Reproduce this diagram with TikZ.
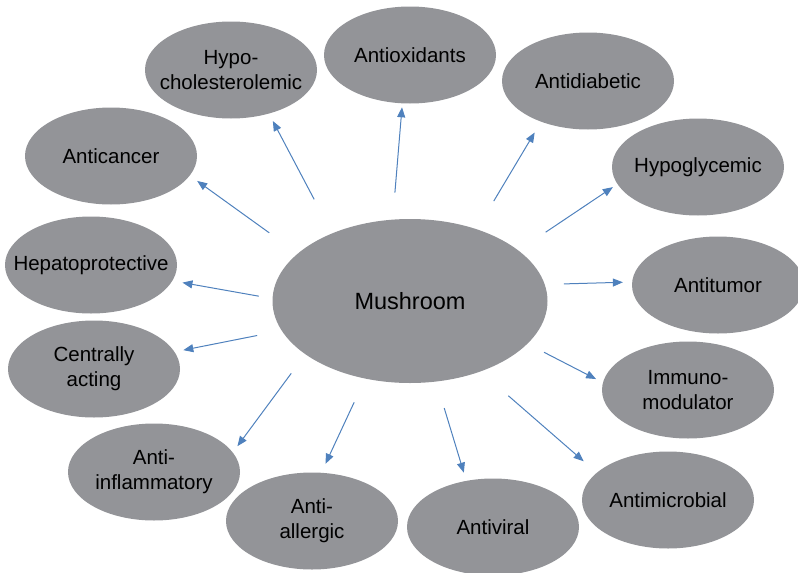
\documentclass[tikz,border=0pt]{standalone}
\usepackage{fontspec}
\setmainfont{Liberation Sans}
\usepackage{tikz}
\usetikzlibrary{shapes.geometric, arrows.meta}
\definecolor{capgray}{RGB}{147,148,152}
\definecolor{linkblue}{RGB}{79,129,189}

\tikzset{
  effect/.style={ellipse, fill=capgray, inner xsep=-20pt, inner ysep=0pt, minimum width=172pt, minimum height=97pt,
    align=center, font=\fontsize{20.5}{25}\selectfont},
  hub/.style={ellipse, fill=capgray, inner sep=0pt, minimum width=275pt, minimum height=164pt,
    font=\fontsize{23.5}{28}\selectfont},
  link/.style={linkblue, line width=1pt, -{Triangle[length=10pt, width=8pt]}}
}

\begin{document}
\begin{tikzpicture}[x=1pt, y=-1pt]
          \useasboundingbox (0,0) rectangle (798,573);

          % Centre
          \node[hub] (mush) at (410,301) {Mushroom};

          % Effects around the centre
          \node[effect] (hypochol) at (231,70) {Hypo-\\cholesterolemic};
          \node[effect] (antiox) at (410,55) {Antioxidants};
          \node[effect] (diabetic) at (588,81) {Antidiabetic};
          \node[effect] (hypogly) at (698,167) {Hypoglycemic};
          \node[effect] (tumor) at (718,285) {Antitumor};
          \node[effect] (immuno) at (688,390) {Immuno-\\modulator};
          \node[effect] (microbial) at (668,500) {Antimicrobial};
          \node[effect] (viral) at (493,527) {Antiviral};
          \node[effect] (allergic) at (312,521) {Anti-\\allergic};
          \node[effect] (inflam) at (154,472) {Anti-\\inflammatory};
          \node[effect] (central) at (94,369) {Centrally\\acting};
          \node[effect] (hepato) at (91,265) {Hepatoprotective};
          \node[effect] (cancer) at (111,156) {Anticancer};

          % Arrows out of the centre
          \draw[link, shorten <=38.3pt, shorten >=8.2pt] (mush.139.8) -- (hypochol.-49.6);
          \draw[link, shorten <=26.9pt, shorten >=3.8pt] (mush.102.8) -- (antiox.-99);
          \draw[link, shorten <=32.7pt, shorten >=12.4pt] (mush.47.3) -- (diabetic.-139.8);
          \draw[link, shorten <=32.7pt, shorten >=5.4pt] (mush.25.3) -- (hypogly.-168.1);
          \draw[link, shorten <=18.9pt, shorten >=9.1pt] (mush.7.6) -- (tumor.178.7);
          \draw[link, shorten <=18.5pt, shorten >=7.6pt] (mush.-20.5) -- (immuno.175.6);
          \draw[link, shorten <=36.8pt, shorten >=17.3pt] (mush.-45.7) -- (microbial.159.7);
          \draw[link, shorten <=27.5pt, shorten >=8.4pt] (mush.-72.9) -- (viral.120.9);
          \draw[link, shorten <=26pt, shorten >=9.7pt] (mush.-120.2) -- (allergic.79.6);
          \draw[link, shorten <=23.6pt, shorten >=7.6pt] (mush.-153.2) -- (inflam.14.2);
          \draw[link, shorten <=24.9pt, shorten >=8.8pt] (mush.-167.3) -- (central.12.1);
          \draw[link, shorten <=13.8pt, shorten >=10.1pt] (mush.179.4) -- (hepato.-11.3);
          \draw[link, shorten <=35.2pt, shorten >=9pt] (mush.157.8) -- (cancer.-14.9);
        \end{tikzpicture}
\end{document}
